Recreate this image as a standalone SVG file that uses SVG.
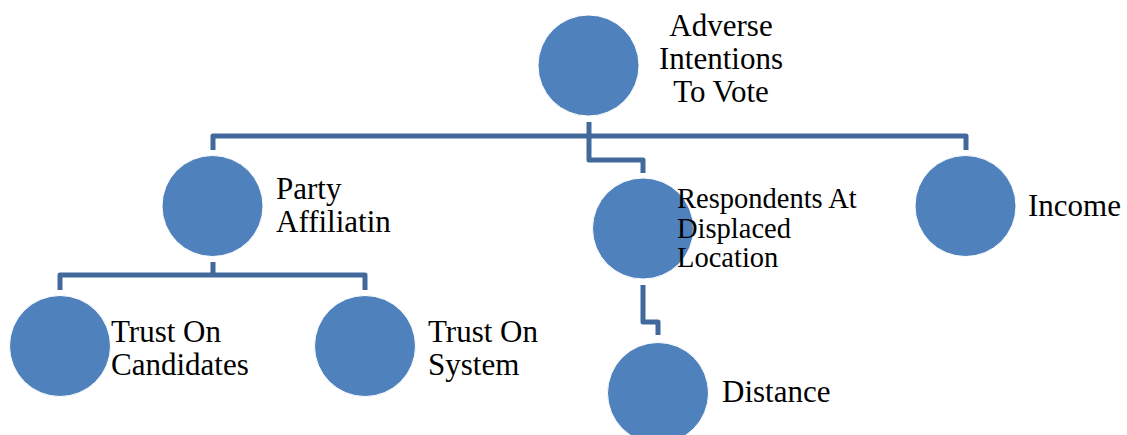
<svg xmlns="http://www.w3.org/2000/svg" width="1127" height="435" viewBox="0 0 1127 435">
<style>
.node circle{fill:#4F81BD;stroke:#ffffff;stroke-width:1}
.lbl{font-family:"Liberation Serif","Times New Roman",serif;font-size:31px;fill:#000}
.small{font-size:28.5px}
.conn path{fill:none;stroke:#41699B;stroke-width:5;stroke-linejoin:round}
</style>
<rect width="1127" height="435" fill="#ffffff"/>
<g class="conn" id="connectors">
<path d="M589,122 V136"/>
<path d="M213,150 V136 H966 V150"/>
<path d="M589,136 V160 H643 V173"/>
<path d="M213,262 V275"/>
<path d="M60,290 V275 H365 V290"/>
<path d="M643,285 V322 H658 V335"/>
</g>
<g class="node" id="n-adverse">
<circle cx="588.5" cy="65.5" r="50.5"/>
<text class="lbl" text-anchor="middle"><tspan x="721" y="36">Adverse</tspan><tspan x="721" y="69">Intentions</tspan><tspan x="721" y="102">To Vote</tspan></text>
</g>
<g class="node" id="n-party">
<circle cx="212.5" cy="206" r="50.5"/>
<text class="lbl"><tspan x="276" y="199">Party</tspan><tspan x="276" y="232">Affiliatin</tspan></text>
</g>
<g class="node" id="n-respondents">
<circle cx="643" cy="228.5" r="50.5"/>
<text class="lbl small"><tspan x="677" y="208">Respondents At</tspan><tspan x="677" y="238">Displaced</tspan><tspan x="677" y="267">Location</tspan></text>
</g>
<g class="node" id="n-income">
<circle cx="965.5" cy="206" r="50.5"/>
<text class="lbl" x="1028" y="216">Income</text>
</g>
<g class="node" id="n-candidates">
<circle cx="60" cy="346" r="50.5"/>
<text class="lbl"><tspan x="111" y="342">Trust On</tspan><tspan x="111" y="375">Candidates</tspan></text>
</g>
<g class="node" id="n-system">
<circle cx="365" cy="346" r="50.5"/>
<text class="lbl"><tspan x="428" y="342">Trust On</tspan><tspan x="428" y="375">System</tspan></text>
</g>
<g class="node" id="n-distance">
<circle cx="658" cy="393" r="50.5"/>
<text class="lbl" x="722" y="402">Distance</text>
</g>
</svg>
